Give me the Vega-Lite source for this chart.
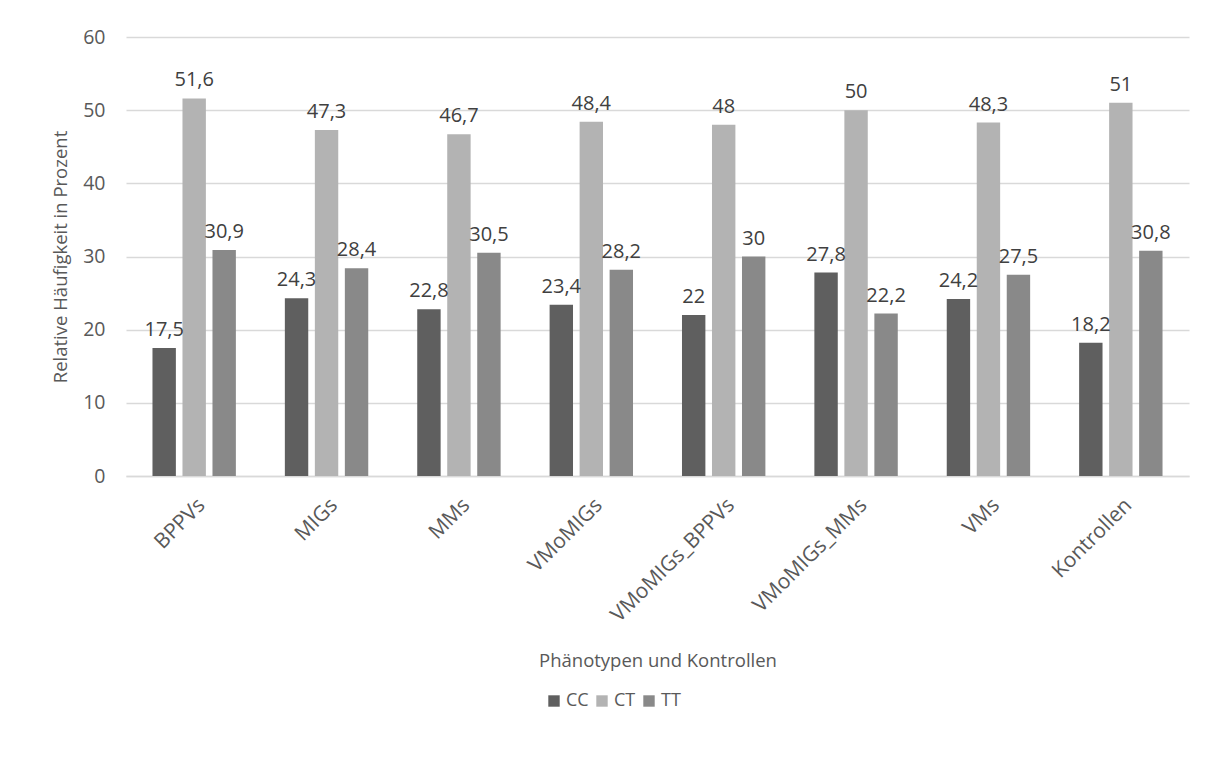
{
  "$schema": "https://vega.github.io/schema/vega-lite/v6.json",
  "width": 1063,
  "height": 439,
  "autosize": {"type": "none"},
  "padding": {"left": 126, "top": 37, "right": 26, "bottom": 286},
  "background": "white",
  "config": {
    "locale": {"number": {"decimal": ",", "thousands": ".", "grouping": [3], "currency": ["", " €"]}},
    "font": "Open Sans",
    "view": {"stroke": null},
    "axis": {"labelColor": "#595959", "titleColor": "#595959", "labelFont": "Open Sans", "titleFont": "Open Sans", "titleFontWeight": "normal", "labelFontSize": 19.5, "titleFontSize": 18.5, "ticks": false, "labelOverlap": false},
    "axisX": {"labelAngle": -45, "labelFontSize": 21, "labelPadding": 18, "domainColor": "#d9d9d9", "domainWidth": 1.5, "titlePadding": 26},
    "axisY": {"labelPadding": 21, "domain": false, "gridColor": "#d9d9d9", "gridWidth": 1.5, "titlePadding": 12},
    "legend": {"labelColor": "#595959", "labelFont": "Open Sans", "labelFontSize": 18}
  },
  "data": {
    "values": [
      {"Gruppe": "BPPVs", "Genotyp": "CC", "Wert": 17.5},
      {"Gruppe": "BPPVs", "Genotyp": "CT", "Wert": 51.6},
      {"Gruppe": "BPPVs", "Genotyp": "TT", "Wert": 30.9},
      {"Gruppe": "MIGs", "Genotyp": "CC", "Wert": 24.3},
      {"Gruppe": "MIGs", "Genotyp": "CT", "Wert": 47.3},
      {"Gruppe": "MIGs", "Genotyp": "TT", "Wert": 28.4},
      {"Gruppe": "MMs", "Genotyp": "CC", "Wert": 22.8},
      {"Gruppe": "MMs", "Genotyp": "CT", "Wert": 46.7},
      {"Gruppe": "MMs", "Genotyp": "TT", "Wert": 30.5},
      {"Gruppe": "VMoMIGs", "Genotyp": "CC", "Wert": 23.4},
      {"Gruppe": "VMoMIGs", "Genotyp": "CT", "Wert": 48.4},
      {"Gruppe": "VMoMIGs", "Genotyp": "TT", "Wert": 28.2},
      {"Gruppe": "VMoMIGs_BPPVs", "Genotyp": "CC", "Wert": 22},
      {"Gruppe": "VMoMIGs_BPPVs", "Genotyp": "CT", "Wert": 48},
      {"Gruppe": "VMoMIGs_BPPVs", "Genotyp": "TT", "Wert": 30},
      {"Gruppe": "VMoMIGs_MMs", "Genotyp": "CC", "Wert": 27.8},
      {"Gruppe": "VMoMIGs_MMs", "Genotyp": "CT", "Wert": 50},
      {"Gruppe": "VMoMIGs_MMs", "Genotyp": "TT", "Wert": 22.2},
      {"Gruppe": "VMs", "Genotyp": "CC", "Wert": 24.2},
      {"Gruppe": "VMs", "Genotyp": "CT", "Wert": 48.3},
      {"Gruppe": "VMs", "Genotyp": "TT", "Wert": 27.5},
      {"Gruppe": "Kontrollen", "Genotyp": "CC", "Wert": 18.2},
      {"Gruppe": "Kontrollen", "Genotyp": "CT", "Wert": 51},
      {"Gruppe": "Kontrollen", "Genotyp": "TT", "Wert": 30.8}
    ]
  },
  "encoding": {
    "x": {
      "field": "Gruppe", "type": "nominal", "sort": null,
      "scale": {"paddingInner": 0.37, "paddingOuter": 0.2},
      "axis": {"title": "Phänotypen und Kontrollen"}
    },
    "xOffset": {"field": "Genotyp", "type": "nominal", "scale": {"paddingInner": 0.22}},
    "y": {
      "field": "Wert", "type": "quantitative",
      "scale": {"domain": [0, 60]},
      "axis": {"title": "Relative Häufigkeit in Prozent", "values": [0, 10, 20, 30, 40, 50, 60]}
    }
  },
  "layer": [
    {
      "mark": {"type": "bar"},
      "encoding": {
        "color": {
          "field": "Genotyp", "type": "nominal",
          "scale": {"domain": ["CC", "CT", "TT"], "range": ["#5f5f5f", "#b3b3b3", "#898989"]},
          "legend": {"title": null, "orient": "none", "legendX": 419, "legendY": 655, "direction": "horizontal", "symbolType": "square", "symbolSize": 130, "symbolStrokeWidth": 0, "columnPadding": 4, "labelOffset": 3}
        }
      }
    },
    {
      "mark": {"type": "text", "baseline": "bottom", "dy": -8, "fontSize": 20, "color": "#404040"},
      "encoding": {
        "text": {"field": "Wert", "type": "quantitative", "format": ".1~f"}
      }
    }
  ]
}
